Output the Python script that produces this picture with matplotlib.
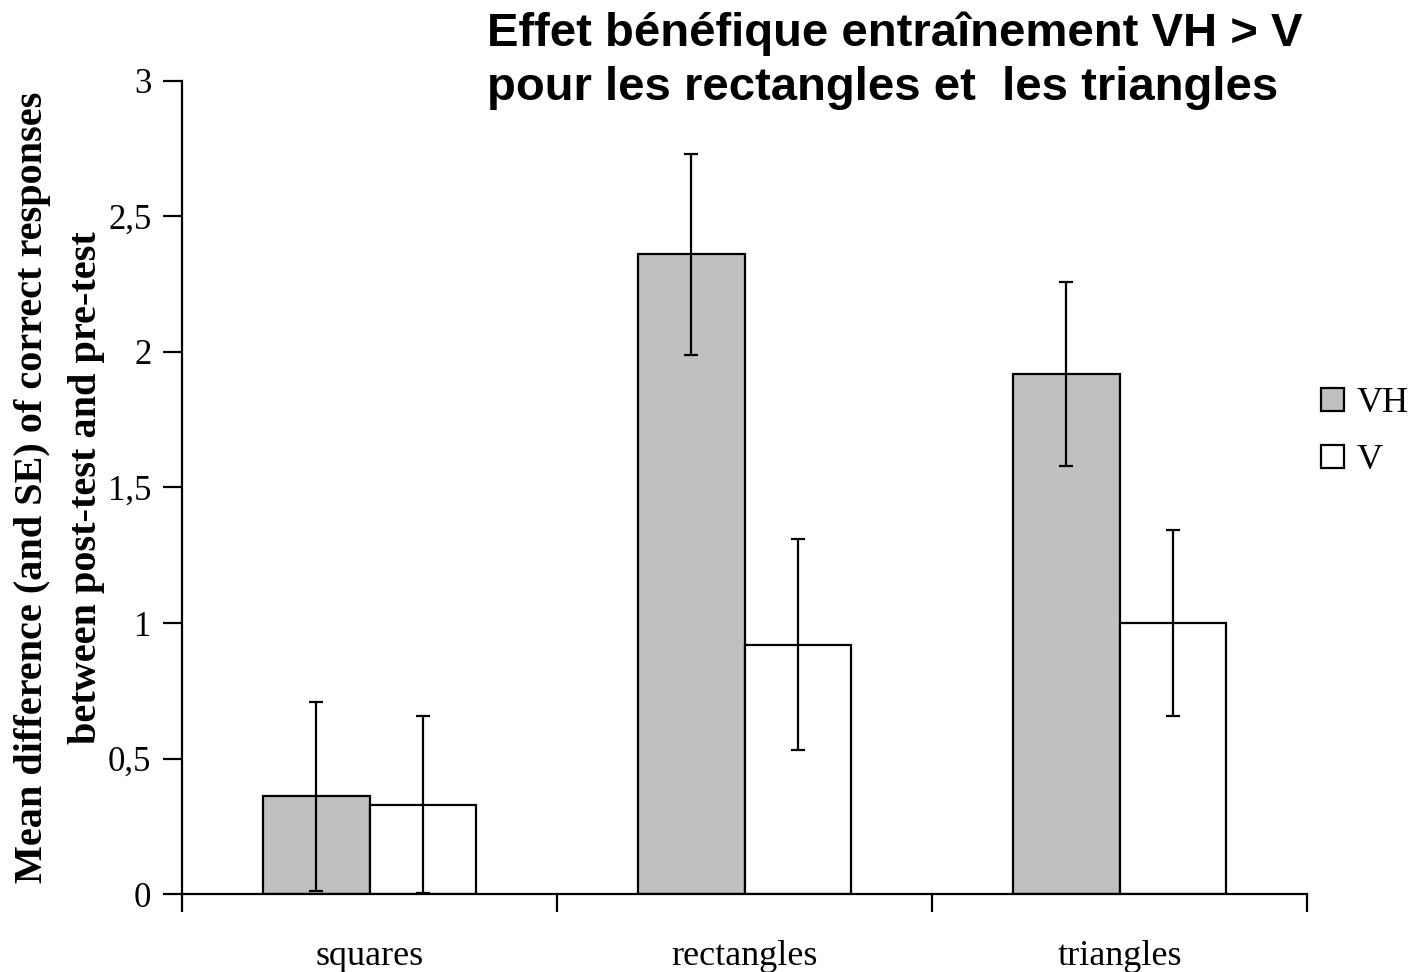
import matplotlib.pyplot as plt
import numpy as np

# Données
categories = ['squares', 'rectangles', 'triangles']
moyennes_vh = [0.36, 2.36, 1.92]
erreurs_vh = [0.35, 0.37, 0.34]
moyennes_v = [0.33, 0.92, 1.00]
erreurs_v = [0.325, 0.39, 0.345]
graduations_y = [0, 0.5, 1, 1.5, 2, 2.5, 3]
etiquettes_y = ['0', '0,5', '1', '1,5', '2', '2,5', '3']

plt.rcParams['font.family'] = ['Liberation Serif', 'DejaVu Serif']

fig = plt.figure(figsize=(14.11, 9.72), dpi=100)
ax = fig.add_axes([182 / 1411, 1 - 894 / 972, (1307 - 182) / 1411, (894 - 81) / 972])

x = np.arange(len(categories)) + 0.5
largeur = 0.285
style_err = dict(ecolor='black', elinewidth=1.6, capsize=5, capthick=1.6)

ax.bar(x - largeur / 2, moyennes_vh, largeur, color='#C0C0C0', edgecolor='black',
       linewidth=1.6, label='VH', yerr=erreurs_vh, error_kw=style_err, zorder=2)
ax.bar(x + largeur / 2, moyennes_v, largeur, color='white', edgecolor='black',
       linewidth=1.6, label='V', yerr=erreurs_v, error_kw=style_err, zorder=2)

ax.set_xlim(0, len(categories))
ax.set_ylim(0, 3)
ax.set_yticks(graduations_y)
ax.set_yticklabels(etiquettes_y, fontsize=25)
ax.set_xticks(np.arange(len(categories) + 1))
ax.set_xticklabels([])
ax.set_xticks(x, minor=True)
ax.set_xticklabels(categories, minor=True, fontsize=26)
ax.tick_params(axis='x', which='minor', length=0, pad=33)
ax.tick_params(axis='x', which='major', length=13, width=1.6, direction='out')
ax.tick_params(axis='y', length=14, width=1.6, direction='out', pad=8)

for cote in ['top', 'right']:
    ax.spines[cote].set_visible(False)
for cote in ['left', 'bottom']:
    ax.spines[cote].set_linewidth(1.6)

ax.set_ylabel('Mean difference (and SE) of correct responses\nbetween post-test and pre-test',
              fontsize=29, fontweight='bold', labelpad=2, linespacing=1.6)

fig.text(487 / 1411, 1 - 11 / 972,
         'Effet bénéfique entraînement VH > V\npour les rectangles et  les triangles',
         fontsize=34, fontweight='bold', family=['Liberation Sans', 'DejaVu Sans'],
         ha='left', va='top', linespacing=1.3)

ax.legend(loc='center left', bbox_to_anchor=(1.0, 0.568), frameon=False, fontsize=26,
          handlelength=0.62, handleheight=0.62, handletextpad=0.35, labelspacing=0.65,
          borderaxespad=0.2, borderpad=0.2)

plt.savefig('out.png', dpi=100)
